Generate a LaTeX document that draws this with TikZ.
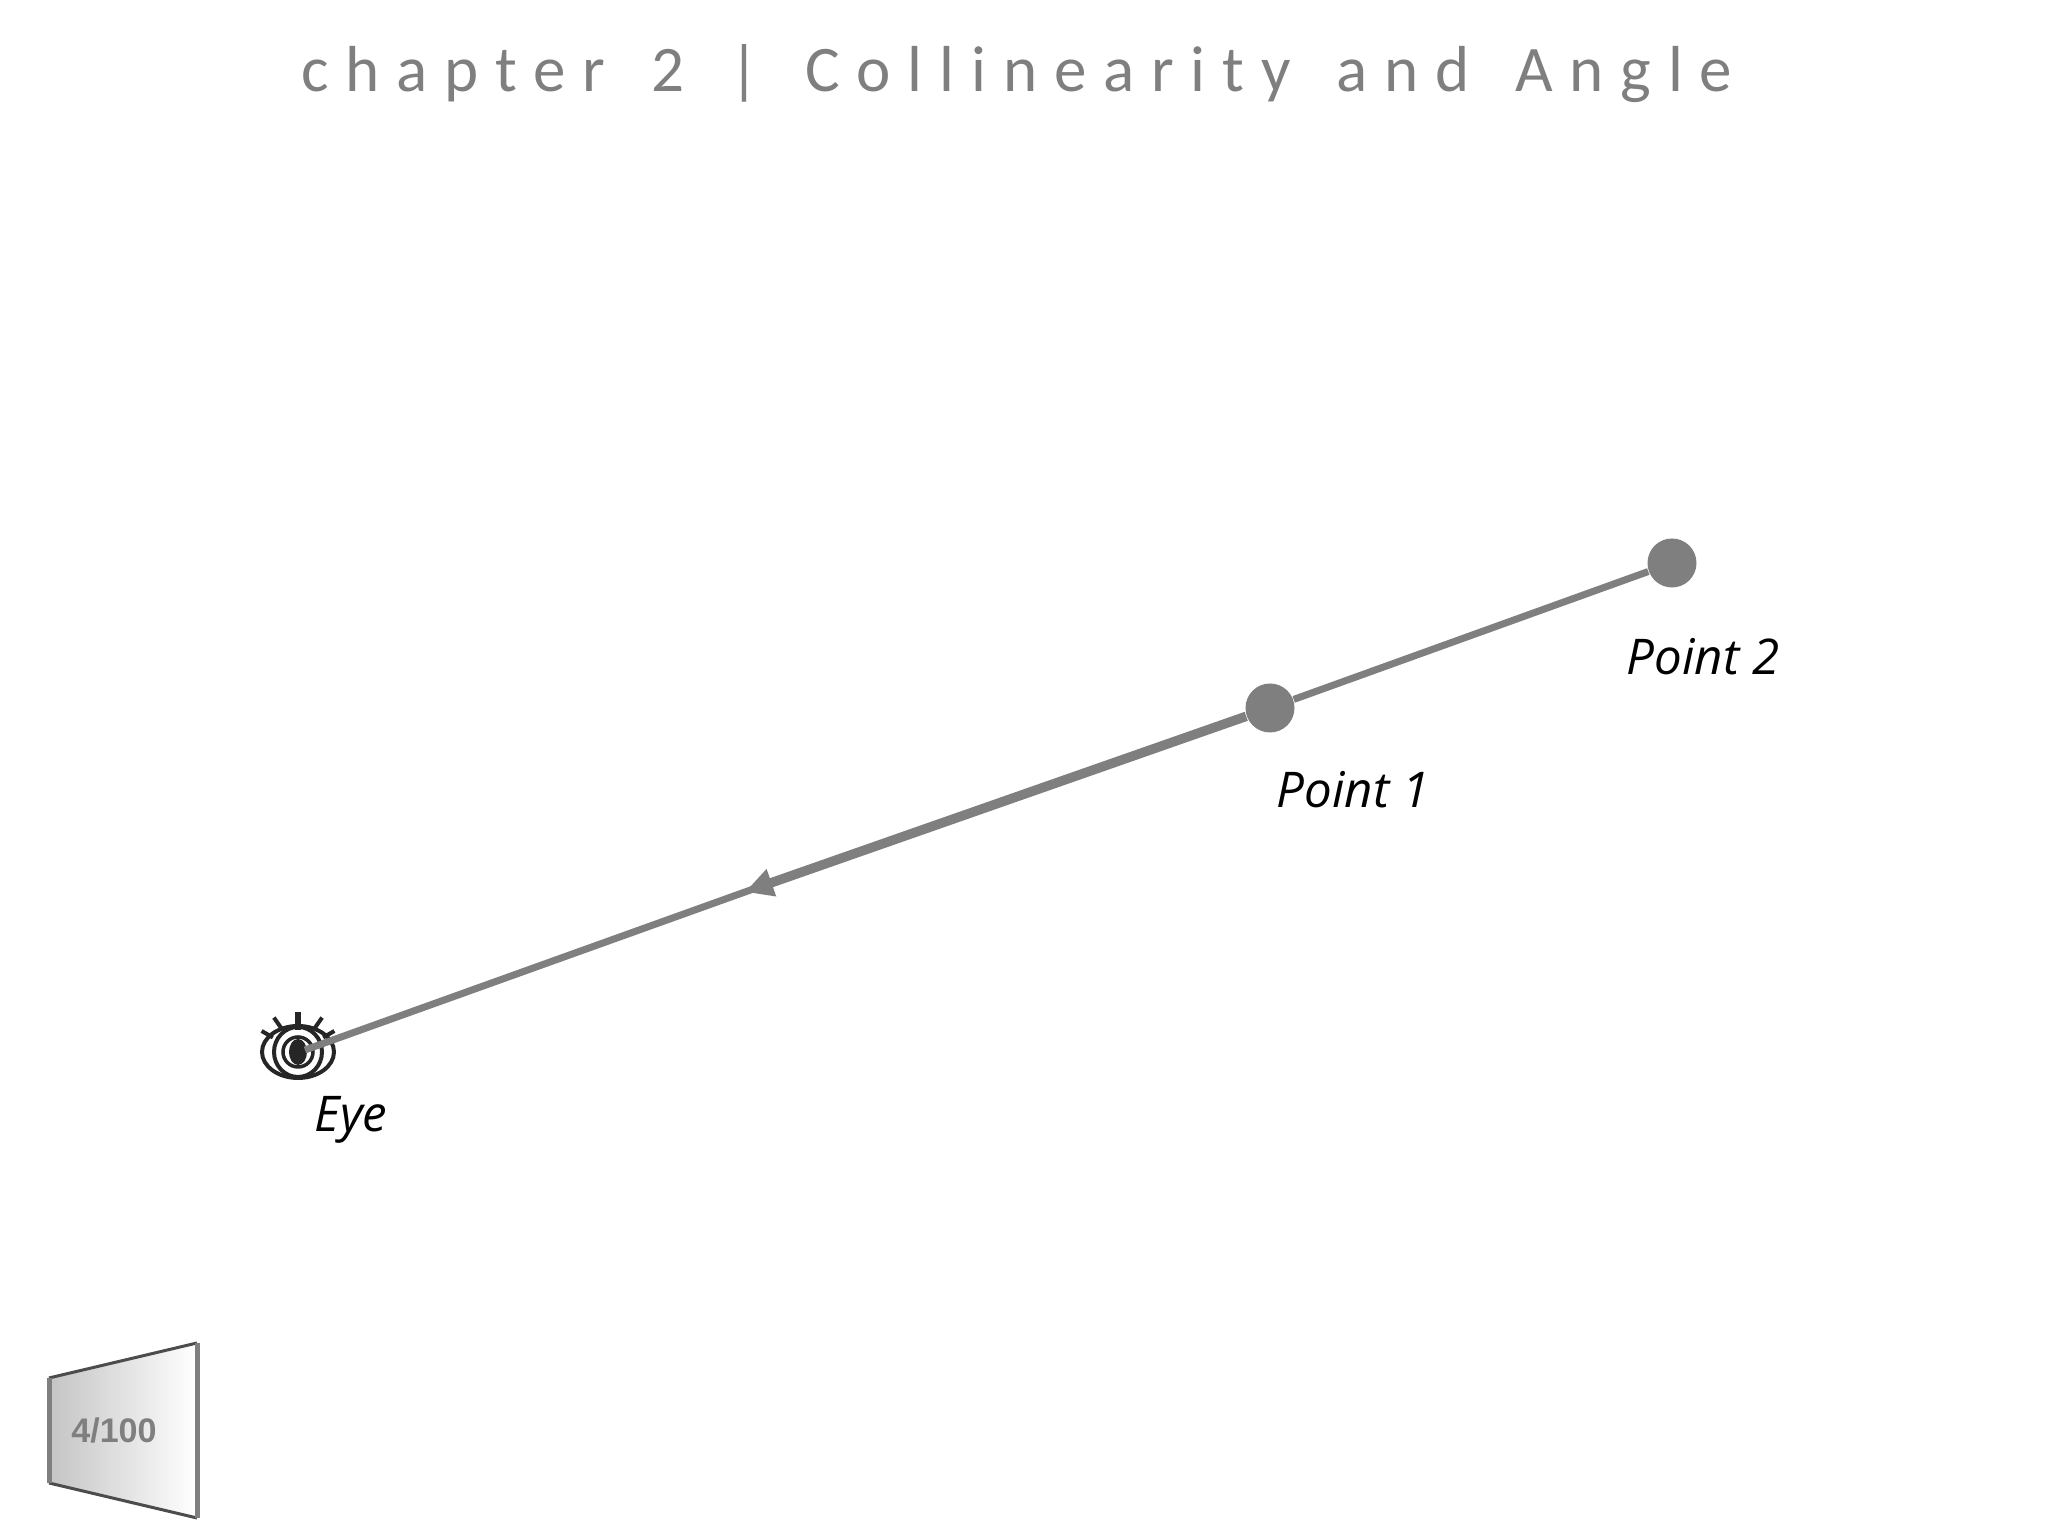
\documentclass[tikz,border=0pt]{standalone}
\usepackage{fontspec}
\usepackage{xcolor}
\setmainfont{Open Sans}
\newfontfamily\titlefont[LetterSpace=25.9,WordSpace=1.45]{Carlito}
\newfontfamily\badgefont{Liberation Sans}
\definecolor{linegray}{HTML}{7F7F7F}
\usetikzlibrary{arrows.meta}
\tikzset{
  point/.style={circle,fill=linegray,inner sep=0pt,minimum size=0.49cm},
  tag/.style={font=\fontsize{14}{16}\selectfont\itshape,text=black,inner sep=0pt},
  ray/.style={draw=linegray,line width=0.07cm},
  lash/.style={draw=black!85,line width=0.04cm}
}

\begin{document}
\begin{tikzpicture}
\useasboundingbox (0,0) rectangle (20.48,15.36);
\node[font=\fontsize{18.5}{22}\selectfont\titlefont,text=linegray,inner sep=0pt] (Title) at (10.17,14.62) {chapter 2 | Collinearity and Angle};

% eye
\coordinate (E) at (2.98,4.84);
\draw[black!85,line width=0.04cm] (E) ellipse (0.36 and 0.26);
\draw[black!85,line width=0.04cm] (E) ellipse (0.24 and 0.25);
\draw[black!85,line width=0.035cm] (E) circle (0.15);
\fill[black!85] (E) ellipse (0.09 and 0.13);
\foreach \a in {150,125,55,30}
  \draw[lash] (E) ++(\a:0.29) -- ++(\a:0.13);
\draw[lash,line width=0.06cm] (2.98,5.06) -- (2.98,5.24);

\node[point] (P1) at (12.70,8.28) {};
\node[point] (P2) at (16.72,9.73) {};
\coordinate (A) at (7.45,6.44);
\coordinate (EyeEnd) at (3.05,4.86);

\path[ray] (P2) edge (P1);
\path[ray,shorten <=-0.1cm] (A) edge (EyeEnd);
\path[ray,line width=0.095cm,->,>={Triangle[length=0.28cm,width=0.27cm,fill=linegray]}] (P1) edge (A);

\node[tag] (LE) at (3.51,4.16) {Eye};
\node[tag] (L1) at (13.53,7.46) {Point 1};
\node[tag] (L2) at (17.03,8.79) {Point 2};

% badge
\coordinate (TL) at (0.49,1.58);
\coordinate (TR) at (1.97,1.93);
\coordinate (BR) at (1.97,0.18);
\coordinate (BL) at (0.49,0.53);
\shade[left color=black!23,right color=white] (TL) -- (TR) -- (BR) -- (BL) -- cycle;
\draw[black!70,line width=0.03cm] (TL) -- (TR) (BL) -- (BR);
\draw[linegray,line width=0.05cm] (TL) -- (BL) (TR) -- (BR);
\node[font=\fontsize{9.7}{12}\selectfont\badgefont\bfseries,text=linegray,inner sep=0pt] (Count) at (1.14,1.05) {4/100};
\end{tikzpicture}
\end{document}
